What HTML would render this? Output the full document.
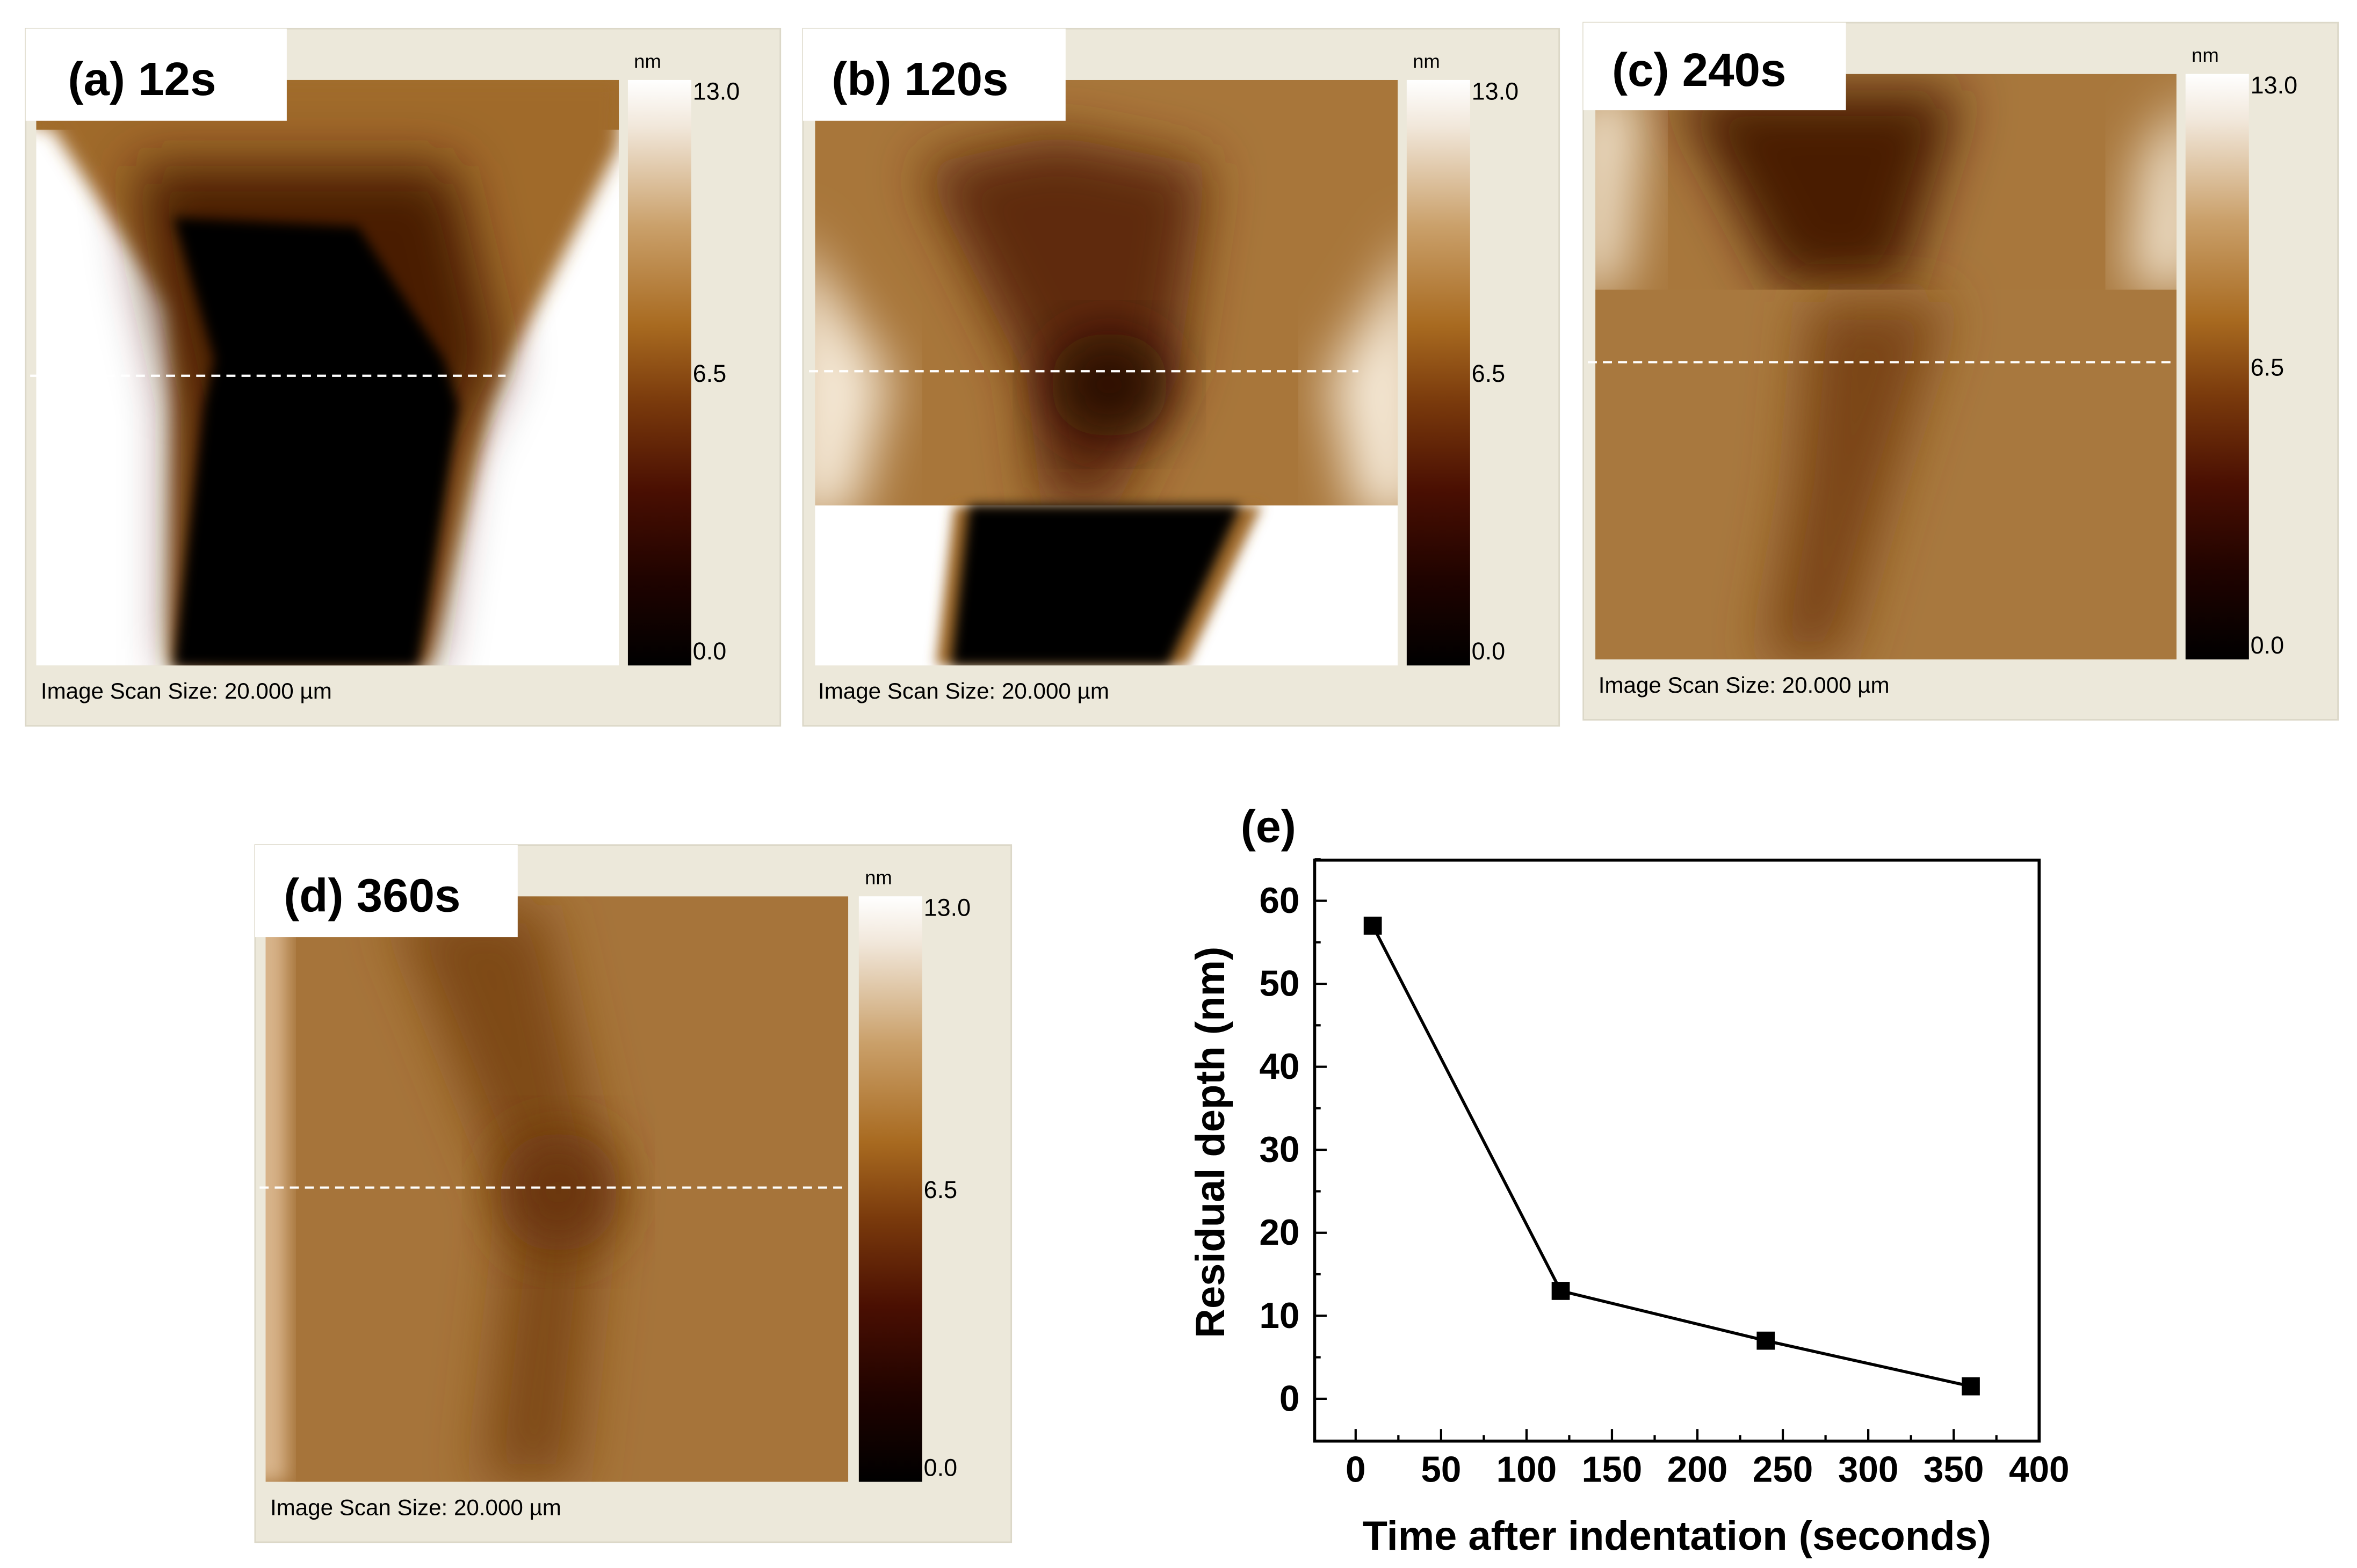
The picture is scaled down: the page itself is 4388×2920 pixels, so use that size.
<!DOCTYPE html>
<html><head><meta charset="utf-8"><style>
html,body{margin:0;padding:0;background:#fff;}
svg{display:block;}
text{font-family:"Liberation Sans",Arial,sans-serif;}
</style></head><body>
<svg id="fig" width="4388" height="2920" viewBox="0 0 1561.6 1039.1" preserveAspectRatio="none" xmlns="http://www.w3.org/2000/svg">
<defs>
<linearGradient id="cbar" x1="0" y1="0" x2="0" y2="1">
<stop offset="0" stop-color="#ffffff"/><stop offset="0.08" stop-color="#f1e7da"/>
<stop offset="0.25" stop-color="#caa06a"/><stop offset="0.42" stop-color="#a86a20"/>
<stop offset="0.55" stop-color="#7a3a0c"/><stop offset="0.7" stop-color="#4a0f02"/>
<stop offset="0.85" stop-color="#200300"/><stop offset="1" stop-color="#000000"/>
</linearGradient>
<filter id="b6" x="-20%" y="-20%" width="140%" height="140%"><feGaussianBlur stdDeviation="6"/></filter>
<filter id="b3" x="-20%" y="-20%" width="140%" height="140%"><feGaussianBlur stdDeviation="4"/></filter>
<filter id="b15" x="-30%" y="-30%" width="160%" height="160%"><feGaussianBlur stdDeviation="18"/></filter>
<clipPath id="ca"><rect x="24" y="53" width="386" height="388"/></clipPath>
<clipPath id="cb"><rect x="540" y="53" width="386" height="388"/></clipPath>
<clipPath id="cc"><rect x="1057" y="49" width="385" height="388"/></clipPath>
<clipPath id="cd"><rect x="176" y="594" width="386" height="388"/></clipPath>
</defs>

<!-- Panel A -->
<g>
<rect x="17" y="19" width="500" height="462" fill="#ece8da" stroke="#dcd8c8"/>
<g clip-path="url(#ca)">
<rect x="24" y="53" width="386" height="388" fill="#ffffff"/>
<rect x="24" y="53" width="386" height="33" fill="#a2702f"/>
<polygon filter="url(#b6)" fill="#a06a2c" points="20,53 412,53 410,97 338,238 325,269 284,442 112,442 115,269 112,205 34,84 20,84"/>
<polygon filter="url(#b15)" fill="#4a1c04" points="90,110 300,110 330,238 300,300 280,442 120,442 120,269 100,180"/>
<polygon filter="url(#b3)" fill="#000" points="115,144 237,150 294,238 304,269 277,442 115,442 135,269 142,238"/>
</g>
<rect x="17" y="19" width="173" height="61" fill="#fff"/>
<text x="45" y="63" font-size="31" font-weight="bold">(a) 12s</text>
<line x1="20" y1="249" x2="335" y2="249" stroke="#fff" stroke-width="1.5" stroke-dasharray="6,4"/>
<rect x="416" y="53" width="42" height="388" fill="url(#cbar)"/>
<text x="420" y="45" font-size="13">nm</text>
<text x="459" y="66" font-size="16">13.0</text>
<text x="459" y="253" font-size="16">6.5</text>
<text x="459" y="437" font-size="16">0.0</text>
<text x="27" y="463" font-size="15">Image Scan Size:  20.000 µm</text>
</g>

<!-- Panel B -->
<g>
<rect x="532" y="19" width="501" height="462" fill="#ece8da" stroke="#dcd8c8"/>
<g clip-path="url(#cb)">
<rect x="540" y="53" width="386" height="388" fill="#ffffff"/>
<rect x="540" y="53" width="386" height="282" fill="#a8763a"/>
<polygon filter="url(#b15)" fill="#f6ead8" points="520,150 590,250 565,345 520,345"/>
<polygon filter="url(#b15)" fill="#f6ead8" points="946,150 880,250 900,345 946,345"/>
<polygon filter="url(#b15)" fill="#5e2c0a" points="610,110 700,90 800,110 780,250 740,335 690,335 680,250"/>
<ellipse cx="735" cy="255" rx="40" ry="35" fill="#2a0c02" filter="url(#b15)"/>
<rect x="540" y="335" width="386" height="106" fill="#fff"/>
<polygon filter="url(#b3)" fill="#a06a2c" points="632,335 836,335 786,441 620,441"/>
<polygon filter="url(#b3)" fill="#000" points="642,335 822,335 774,441 630,441"/>
</g>
<rect x="532" y="19" width="174" height="61" fill="#fff"/>
<text x="551" y="63" font-size="31" font-weight="bold">(b) 120s</text>
<line x1="536" y1="246" x2="900" y2="246" stroke="#fff" stroke-width="1.5" stroke-dasharray="6,4"/>
<rect x="932" y="53" width="42" height="388" fill="url(#cbar)"/>
<text x="936" y="45" font-size="13">nm</text>
<text x="975" y="66" font-size="16">13.0</text>
<text x="975" y="253" font-size="16">6.5</text>
<text x="975" y="437" font-size="16">0.0</text>
<text x="542" y="463" font-size="15">Image Scan Size:  20.000 µm</text>
</g>

<!-- Panel C -->
<g>
<rect x="1049" y="15" width="500" height="462" fill="#ece8da" stroke="#dcd8c8"/>
<g clip-path="url(#cc)">
<rect x="1057" y="49" width="385" height="388" fill="#a8773c"/>
<polygon filter="url(#b15)" fill="#f0e2cc" points="1040,60 1090,60 1075,192 1040,192"/>
<polygon filter="url(#b15)" fill="#f0e2cc" points="1460,60 1420,100 1410,192 1460,192"/>
<polygon filter="url(#b15)" fill="#4a1e04" points="1110,60 1300,60 1260,192 1180,192"/>
<rect x="1057" y="192" width="385" height="245" fill="#a8783e"/>
<polygon filter="url(#b15)" fill="#7a4416" points="1200,200 1290,200 1250,330 1220,437 1170,437 1190,320"/>
</g>
<rect x="1049" y="15" width="174" height="58" fill="#fff"/>
<text x="1068" y="57" font-size="31" font-weight="bold">(c) 240s</text>
<line x1="1052" y1="240" x2="1440" y2="240" stroke="#fff" stroke-width="1.5" stroke-dasharray="6,4"/>
<rect x="1448" y="49" width="42" height="388" fill="url(#cbar)"/>
<text x="1452" y="41" font-size="13">nm</text>
<text x="1491" y="62" font-size="16">13.0</text>
<text x="1491" y="249" font-size="16">6.5</text>
<text x="1491" y="433" font-size="16">0.0</text>
<text x="1059" y="459" font-size="15">Image Scan Size:  20.000 µm</text>
</g>

<!-- Panel D -->
<g>
<rect x="169" y="560" width="501" height="462" fill="#ece8da" stroke="#dcd8c8"/>
<g clip-path="url(#cd)">
<rect x="176" y="594" width="386" height="388" fill="#a6743a"/>
<rect x="160" y="594" width="30" height="388" fill="#d8b48a" filter="url(#b6)"/>
<polygon filter="url(#b15)" fill="#7e4818" points="260,600 360,600 400,780 380,982 320,982 340,800"/>
<ellipse cx="370" cy="790" rx="40" ry="40" fill="#6a3610" filter="url(#b15)"/>
</g>
<rect x="169" y="560" width="174" height="61" fill="#fff"/>
<text x="188" y="604" font-size="31" font-weight="bold">(d) 360s</text>
<line x1="172" y1="787" x2="560" y2="787" stroke="#fff" stroke-width="1.5" stroke-dasharray="6,4"/>
<rect x="569" y="594" width="42" height="388" fill="url(#cbar)"/>
<text x="573" y="586" font-size="13">nm</text>
<text x="612" y="607" font-size="16">13.0</text>
<text x="612" y="794" font-size="16">6.5</text>
<text x="612" y="978" font-size="16">0.0</text>
<text x="179" y="1004" font-size="15">Image Scan Size:  20.000 µm</text>
</g>

<!-- Panel E chart -->
<g id="chartE">
<text x="822" y="558" font-size="30" font-weight="bold">(e)</text>
<rect x="871" y="570" width="480" height="385" fill="none" stroke="#000" stroke-width="2"/>
<text x="1111" y="1027" font-size="27" font-weight="bold" text-anchor="middle">Time after indentation (seconds)</text>
<text transform="translate(811,757) rotate(-90)" font-size="27" font-weight="bold" text-anchor="middle">Residual depth (nm)</text>
</g>
</svg>
<script>
const times = [10, 120, 240, 360];
const depths = [57, 13, 7, 1.5];
const xTicks = [0, 50, 100, 150, 200, 250, 300, 350, 400];
const yTicks = [0, 10, 20, 30, 40, 50, 60];

const NS = 'http://www.w3.org/2000/svg';
const g = document.getElementById('chartE');
const X0 = 871, X1 = 1351, Y0 = 955, Y1 = 570;
const xMin = -24, xMax = 400, yMin = -5.1, yMax = 64.9;
function sx(v){ return X0 + (v - xMin) / (xMax - xMin) * (X1 - X0); }
function sy(v){ return Y0 - (v - yMin) / (yMax - yMin) * (Y0 - Y1); }
function mk(tag, attrs){ const e = document.createElementNS(NS, tag); for (const k in attrs) e.setAttribute(k, attrs[k]); g.appendChild(e); return e; }

xTicks.forEach(function(t){
  const l = mk('line', {x1: sx(t), x2: sx(t), y1: Y0, y2: Y0 - 8, stroke: '#000', 'stroke-width': 1.5});
  
  
  if (t < 400) {
    const m = mk('line', {x1: sx(t + 25), x2: sx(t + 25), y1: Y0, y2: Y0 - 4, stroke: '#000', 'stroke-width': 1.5});
    
    
  }
  const tx = mk('text', {x: sx(t), y: 982, 'font-size': 24, 'font-weight': 'bold', 'text-anchor': 'middle'});
  tx.textContent = t;
  
  
});
yTicks.forEach(function(t){
  const l = mk('line', {x1: X0, x2: X0 + 8, y1: sy(t), y2: sy(t), stroke: '#000', 'stroke-width': 1.5});
  
  
  const m = mk('line', {x1: X0, x2: X0 + 4, y1: sy(t + 5), y2: sy(t + 5), stroke: '#000', 'stroke-width': 1.5});
  
  
  const tx = mk('text', {x: 861, y: sy(t) + 8, 'font-size': 24, 'font-weight': 'bold', 'text-anchor': 'end'});
  tx.textContent = t;
  
  
});
const pts = times.map(function(t, i){ return sx(t) + ',' + sy(depths[i]); }).join(' ');
const line = mk('polyline', {points: pts, fill: 'none', stroke: '#000', 'stroke-width': 2});


times.forEach(function(t, i){
  const r = mk('rect', {x: sx(t) - 6, y: sy(depths[i]) - 6, width: 12, height: 12, fill: '#000'});
  
  
});
</script>
</body></html>
